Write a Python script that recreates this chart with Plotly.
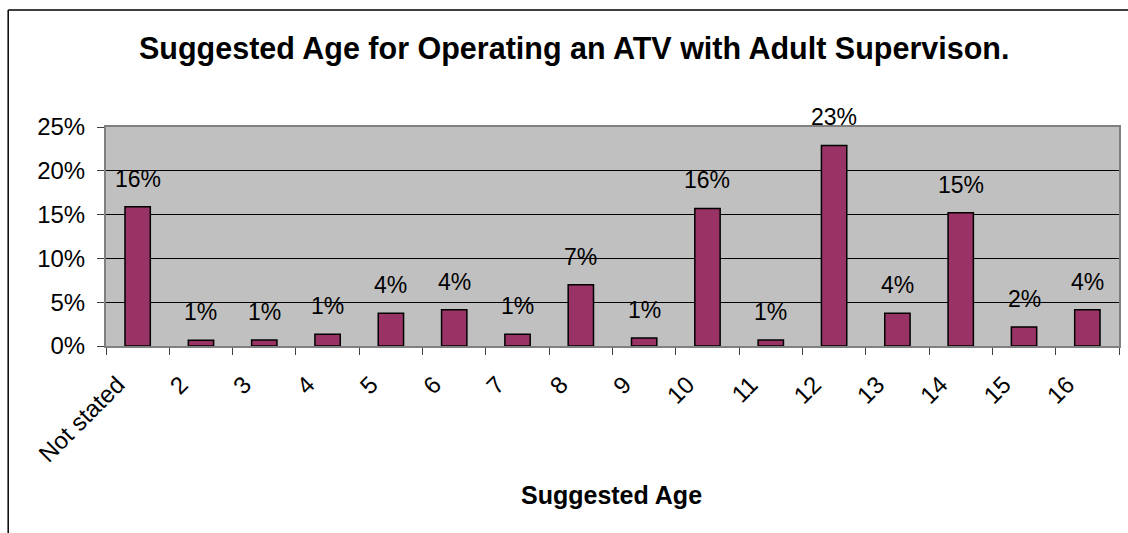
import plotly.graph_objects as go

# data
ages = ['Not stated', '2', '3', '4', '5', '6', '7', '8',
        '9', '10', '11', '12', '13', '14', '15', '16']
share = [0.159, 0.0065, 0.0068, 0.0134, 0.0373, 0.0415, 0.0134, 0.070,
         0.0091, 0.157, 0.0068, 0.229, 0.0373, 0.152, 0.0217, 0.0415]
y_ticks = [0, 0.05, 0.10, 0.15, 0.20, 0.25]

font_family = 'Liberation Sans, Arial, sans-serif'
bar_color = '#993366'

W, H = 1128, 533
left, right, top, bottom = 106, 1121, 127, 346


def px_x(px):
    # pixel -> paper x
    return (px - left) / (right - left)


def px_y(py):
    # pixel -> paper y
    return (bottom - py) / (bottom - top)


fig = go.Figure(
    go.Bar(
        x=ages,
        y=share,
        marker=dict(color=bar_color, line=dict(color='black', width=1.5)),
        hoverinfo='skip',
    )
)

# value labels above the bars (x given as category index, since '2' etc. would be read as an index anyway)
for i, v in enumerate(share):
    fig.add_annotation(
        x=i, y=v, xref='x', yref='y',
        text=f'{round(v * 100):.0f}%',
        showarrow=False,
        yanchor='bottom',
        yshift=13,
        font=dict(size=23, color='black', family=font_family),
    )

fig.update_xaxes(
    type='category',
    tickson='boundaries',
    ticks='outside',
    ticklen=7,
    tickcolor='#404040',
    tickangle=-45,
    ticklabelstandoff=13,
    ticklabelshift=-20,
    tickfont=dict(size=24, color='black'),
    showline=True,
    linecolor='#808080',
    linewidth=2,
    mirror=True,
    showgrid=False,
)

fig.update_yaxes(
    range=[0, 0.25],
    tickvals=y_ticks,
    tickformat='.0%',
    ticks='outside',
    ticklen=7,
    tickcolor='#404040',
    ticklabelstandoff=7,
    tickfont=dict(size=24, color='black'),
    showgrid=True,
    gridcolor='black',
    gridwidth=1,
    zeroline=True,
    zerolinecolor='black',
    zerolinewidth=1,
    showline=True,
    linecolor='#808080',
    linewidth=2,
    mirror=True,
)

# title and axis title
fig.add_annotation(
    text='<b>Suggested Age for Operating an ATV with Adult Supervison.</b>',
    xref='paper', yref='paper',
    x=px_x(575), y=px_y(49),
    xanchor='center', yanchor='middle',
    showarrow=False,
    font=dict(size=30.5, color='black', family=font_family),
)
fig.add_annotation(
    text='<b>Suggested Age</b>',
    xref='paper', yref='paper',
    x=px_x(612), y=px_y(495),
    xanchor='center', yanchor='middle',
    showarrow=False,
    font=dict(size=25, color='black', family=font_family),
)

# outer chart border (left and top edges visible in the reference)
fig.add_shape(type='line', xref='paper', yref='paper',
              x0=px_x(8), y0=px_y(10), x1=px_x(1135), y1=px_y(10),
              line=dict(color='black', width=1.5))
fig.add_shape(type='line', xref='paper', yref='paper',
              x0=px_x(8), y0=px_y(10), x1=px_x(8), y1=px_y(540),
              line=dict(color='black', width=1.5))

fig.update_layout(
    width=W,
    height=H,
    bargap=0.6,
    paper_bgcolor='white',
    plot_bgcolor='#c0c0c0',
    showlegend=False,
    margin=dict(l=left, r=W - right, t=top, b=H - bottom, pad=0),
    font=dict(family=font_family, color='black'),
)

fig.write_html('out.html', config={'displayModeBar': False},
               post_script="document.body.style.margin='0';")
